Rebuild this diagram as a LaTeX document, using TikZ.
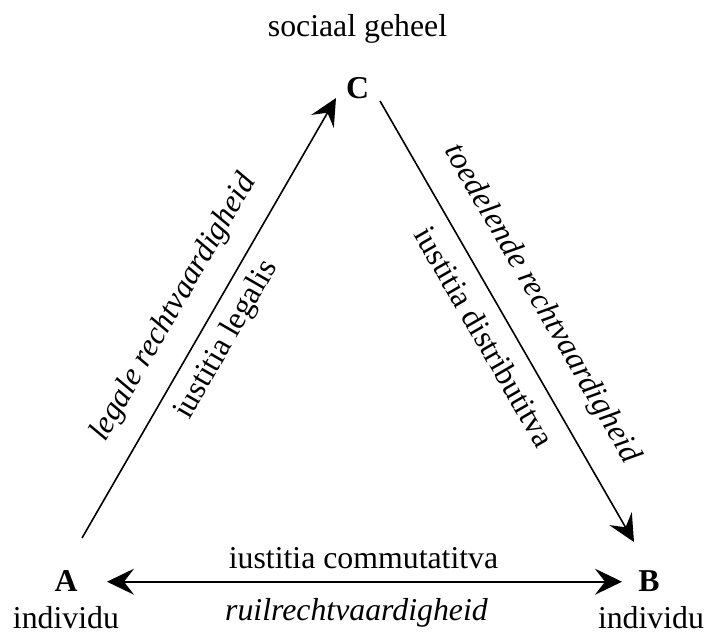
\documentclass[tikz,border=0pt]{standalone}
\usepackage{fontspec}
\setmainfont{Liberation Serif}[ItalicFont={Liberation Serif Italic},BoldFont={Liberation Serif Bold},BoldItalicFont={Liberation Serif Bold Italic}]
\usetikzlibrary{arrows.meta}
\begin{document}
\begin{tikzpicture}[x=0.5pt,y=-0.5pt,
  every node/.style={inner sep=0pt,outer sep=0pt,font=\fontsize{15.9}{19}\selectfont},
  lbl/.style={anchor=base},
  vertex/.style={anchor=base,font=\fontsize{15.9}{19}\selectfont\bfseries},
  conn/.style={line width=0.8pt,-{Stealth[length=13.5pt,width=13pt,inset=5pt]}},
  bconn/.style={line width=0.8pt,{Stealth[length=13.5pt,width=13pt,inset=5pt]}-{Stealth[length=13.5pt,width=13pt,inset=5pt]}}]
\useasboundingbox (0,0) rectangle (705,634);
% vertices
\node[vertex] (C) at (357.5,98) {C};
\node[vertex] (A) at (66,591) {A};
\node[vertex] (B) at (649,591) {B};
\node[lbl] (soc) at (357.5,36) {sociaal geheel};
\node[lbl] (indA) at (66,628) {individu};
\node[lbl] (indB) at (651,628) {individu};
% connector ends
\coordinate (a1) at (82,538);
\coordinate (c1) at (336,98);
\coordinate (c2) at (380,101);
\coordinate (b1) at (634,542);
\coordinate (a2) at (107,581.7);
\coordinate (b2) at (622,581.7);
\draw[conn] (a1) -- (c1);
\draw[conn] (c2) -- (b1);
\draw[bconn] (a2) -- (b2);
% edge labels
\node[rotate=60] (leg) at (174,308) {\itshape legale rechtvaardigheid};
\node[rotate=60] (iul) at (227,340) {iustitia legalis};
\node[rotate=-60] (toe) at (541.5,304) {\itshape toedelende rechtvaardigheid};
\node[rotate=-60] (iud) at (485,337) {iustitia distributitva};
\node[lbl] (iuc) at (363.5,568) {iustitia commutatitva};
\node[lbl] (ruil) at (356.5,620) {\itshape ruilrechtvaardigheid};
\end{tikzpicture}
\end{document}
